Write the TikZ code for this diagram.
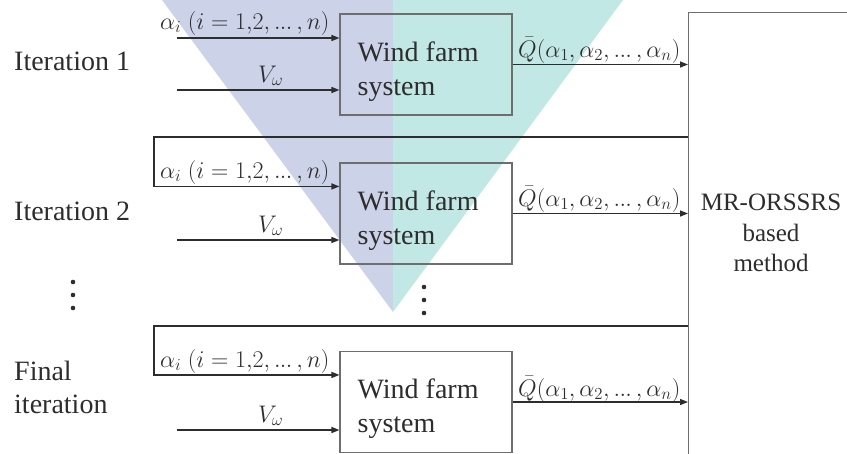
\RequirePackage{fix-cm}
\documentclass[tikz,border=0pt]{standalone}
\usepackage{amsmath}
\usepackage{fontspec}
\setmainfont{Liberation Serif}
\newfontfamily\tnr{Liberation Serif}
\usetikzlibrary{arrows.meta, positioning, calc}
\definecolor{ink}{RGB}{45,45,45}
\definecolor{edge}{RGB}{110,110,110}
\definecolor{wmblue}{RGB}{204,210,232}
\definecolor{wmteal}{RGB}{194,232,229}
\newcommand{\tdots}{\mathinner{.\mkern-0.5mu.\mkern-0.5mu.}}

\begin{document}
\begin{tikzpicture}[x=1pt,y=-1pt,
  W/.style={draw=edge,line width=1.1pt,
            minimum width=172pt,minimum height=101pt,inner sep=0pt},
  T/.style={anchor=north west,inner sep=0pt,align=left,text=ink,
            font=\tnr\fontsize{28}{34}\selectfont},
  L/.style={text=ink,inner sep=0pt,font=\tnr\fontsize{28}{33}\selectfont},
  ml/.style={text=ink,inner sep=0pt,anchor=base west,
             font=\fontsize{24}{28}\selectfont},
  ar/.style={-{Triangle[length=8pt,width=6pt]},line width=1.4pt,draw=ink},
  >=Triangle
]
\useasboundingbox (0,0) rectangle (847,453);
\clip (0,0) rectangle (847,453);

% watermark
\fill[wmblue] (162,0) -- (393,0) -- (393,312) -- cycle;
\fill[wmteal] (393,0) -- (623,0) -- (393,312) -- cycle;

%% col-x:  14 | 177 | 426 | 688
%% row-y:  64.5 | 213.5 | 402

% wind farm blocks
\node[W] (WF1) at (426,64.5) {};
\node[W] (WF2) at (426,213.5) {};
\node[W] (WF3) at (426,402) {};
\foreach \k in {1,2,3}
  \node[T] (WT\k) at ([xshift=18pt,yshift=-28pt]WF\k.north west)
        {Wind farm\\system};

% MR-ORSSRS block
\node[draw=edge,line width=1.1pt,anchor=north west,
      minimum width=240pt,minimum height=480pt] (MR) at (688,12) {};
\node[L,font=\tnr\fontsize{25}{30.5}\selectfont,align=center,anchor=north]
      (MRT) at (771,194) {MR-ORSSRS\\based\\method};

% iteration labels
\node[L,anchor=base west] (IT1) at (14,70) {Iteration 1};
\node[L,anchor=base west] (IT2) at (14,220) {Iteration 2};
\node[L,anchor=north west,align=left] (IT3) at (14,361) {Final\\iteration};

% free ends
\coordinate (A1) at (177,38);
\coordinate (V1) at (177,90);
\coordinate (V2) at (177,240);
\coordinate (V3) at (177,430);
\coordinate (FB2) at (154,137);
\coordinate (FB3) at (154,326);

% inputs
\draw[ar] (A1) -- (A1 -| WF1.west);
\draw[ar] (FB2 -| MR.west) -- (FB2) |- ($(WF2.north west)+(0,24)$);
\draw[ar] (FB3 -| MR.west) -- (FB3) |- ($(WF3.north west)+(0,24)$);
\draw[ar] (V1) -- (V1 -| WF1.west);
\draw[ar] (V2) -- (V2 -| WF2.west);
\draw[ar] (V3) -- (V3 -| WF3.west);

\node[ml] (AL1) at (160,29)  {$\alpha_i\;(i=1{,}2,\tdots,n)$};
\node[ml] (AL2) at (160,178) {$\alpha_i\;(i=1{,}2,\tdots,n)$};
\node[ml] (AL3) at (160,367) {$\alpha_i\;(i=1{,}2,\tdots,n)$};
\node[ml] (VL1) at (258,82)  {$V_\omega$};
\node[ml] (VL2) at (258,232) {$V_\omega$};
\node[ml] (VL3) at (258,422) {$V_\omega$};

% outputs
\foreach \k/\yb in {1/57,2/206,3/396}{
  \draw[ar] (WF\k.east) -- (WF\k.east -| MR.west);
  \node[ml] (QL\k) at (518,\yb) {$\bar{Q}(\alpha_1,\alpha_2,\tdots,\alpha_n)$};
}

% dots
\foreach \yy in {282,295,308} \fill[ink] (73,\yy) circle (2.3pt);
\foreach \yy in {287,300,313} \fill[ink] (424,\yy) circle (2.3pt);

\end{tikzpicture}
\end{document}
